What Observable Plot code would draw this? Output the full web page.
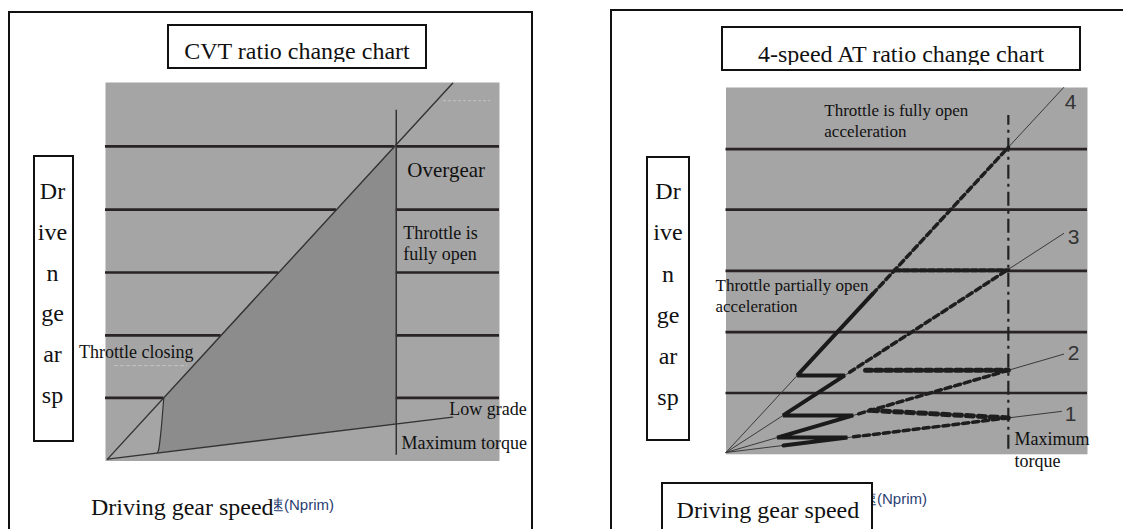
<!DOCTYPE html>
<html>
<head>
<meta charset="utf-8">
<script src="https://cdn.jsdelivr.net/npm/d3@7"></script>
<script src="https://cdn.jsdelivr.net/npm/@observablehq/plot@0.6"></script>
<style>
  body { margin: 0; background: #fff; }
  #page { position: relative; width: 1123px; height: 529px; overflow: hidden; background: #fff;
          font-family: "Liberation Serif", "Times New Roman", serif; color: #111; }
  .box { position: absolute; box-sizing: border-box; border: 2px solid #111; background: #fff; }
  .frame { position: absolute; box-sizing: border-box; border: 2px solid #111; }
  .txt { position: absolute; white-space: nowrap; }
  .svgwrap { position: absolute; top: 0; }
</style>
</head>
<body>
<div id="page"></div>
<script>
// ================= DATA =================
// --- CVT ratio change chart (x: driving gear speed, y: driven gear speed, 0-100 units) ---
const cvtGridY = [16.7, 33.2, 49.8, 66.4, 83.1];        // horizontal reference lines
const cvtFullThrottleX = [0.5, 88.1];                    // throttle fully open line
const cvtFullThrottleY = [0.5, 99.8];
const cvtLowGradeX = [0.5, 88.1];                        // low grade line
const cvtLowGradeY = [0.5, 11.6];
const cvtMaxTorqueX = 73.8;                              // maximum torque line
const cvtMaxTorqueY = [1.5, 92.7];
const cvtClosingX = [13.2, 13.45, 14.1, 14.6, 14.8];     // throttle closing curve
const cvtClosingY = [2.2, 2.8, 8.1, 14.2, 16.7];

// --- 4-speed AT ratio change chart ---
const atGears = ["1", "2", "3", "4"];
const atOriginX = 0, atOriginY = 0.5;
const atGearEndX = [92.8, 93.4, 93.4, 93.4];
const atGearEndY = [11.7, 27.3, 60.2, 100];
const atGridY = [16.7, 33.3, 50, 66.7, 83.2];
const atMaxTorqueX = 78.1;
const atMaxTorqueY = [1.4, 92.4];
// throttle partially open acceleration (zig-zag)
const atPartialX = [15.9, 33.6, 14.15, 35.2, 15.8, 32.85, 19.71, 40.5];
const atPartialY = [2.42, 4.56, 4.56, 10.6, 10.6, 21.5, 21.5, 43.64];
// throttle fully open: acceleration along each gear starts at
const atFullStartX = [35.3, 36.7, 34.2, 40.5];
// throttle fully open: upshifts 1->2, 2->3, 3->4
const atShiftFromX = [78.1, 78.1, 78.1];
const atShiftFromY = [9.93, 22.91, 50.2];
const atShiftToX = [40, 38.6, 46.65];
const atShiftToY = [11.98, 22.91, 50.2];

// ================= HELPERS =================
const SERIF = '"Liberation Serif","Times New Roman",serif';
const SANS = '"Liberation Sans",Arial,sans-serif';
const LINE = "#2a2325";
const GRAY = "#a5a5a5";
const DARKGRAY = "#8c8c8c";
const page = document.getElementById("page");

function interpY(xs, ys, x) { return ys[0] + (x - xs[0]) * (ys[1] - ys[0]) / (xs[1] - xs[0]); }
function interpX(xs, ys, y) { return xs[0] + (y - ys[0]) * (xs[1] - xs[0]) / (ys[1] - ys[0]); }

function div(cls, css, parent = page) {
  const d = document.createElement("div");
  d.className = cls;
  Object.assign(d.style, css);
  parent.appendChild(d);
  return d;
}
// text placed by its baseline; line-height = font-size
function htmlText(str, left, baseline, size, opts = {}) {
  const fam = opts.family || SERIF;
  const k = fam === SANS ? 0.8465 : 0.8375;
  const d = div("txt", {
    fontFamily: fam, fontSize: size + "px", lineHeight: size + "px",
    top: (baseline - k * size) + "px", color: opts.color || "#111",
    zIndex: opts.z || 3
  }, opts.parent || page);
  if (opts.center != null) {
    d.style.left = (opts.center - 150) + "px"; d.style.width = "300px"; d.style.textAlign = "center";
  } else d.style.left = left + "px";
  if (opts.bg) d.style.background = opts.bg;
  d.textContent = str;
  return d;
}
function note(str, x, y, size, anchor = "start", family = SERIF) {
  return Plot.text([str], {x, y, text: d => d, textAnchor: anchor, fontSize: size, fontFamily: family, fill: "#111"});
}

// ================= OUTER FRAMES =================
div("frame", {left: "8px", top: "11px", width: "525px", height: "600px", zIndex: 1});
div("frame", {left: "610px", top: "9px", width: "600px", height: "600px", zIndex: 1});

// ================= CVT PLOT =================
const cvtGridSegs = cvtGridY.flatMap(y => [
  {y, x1: 0, x2: interpX(cvtFullThrottleX, cvtFullThrottleY, y)},
  {y, x1: cvtMaxTorqueX, x2: 100}
]);
const cvtPoly = [
  {x: cvtClosingX[cvtClosingX.length - 1], y: cvtClosingY[cvtClosingY.length - 1]},
  {x: cvtMaxTorqueX, y: interpY(cvtFullThrottleX, cvtFullThrottleY, cvtMaxTorqueX)},
  {x: cvtMaxTorqueX, y: interpY(cvtLowGradeX, cvtLowGradeY, cvtMaxTorqueX)},
  ...cvtClosingX.map((x, i) => ({x, y: cvtClosingY[i]}))
];
const cvtFull = cvtFullThrottleX.map((x, i) => ({x, y: cvtFullThrottleY[i]}));
const cvtLow = cvtLowGradeX.map((x, i) => ({x, y: cvtLowGradeY[i]}));
const cvtClosing = cvtClosingX.map((x, i) => ({x, y: cvtClosingY[i]}));

const cvtPlot = Plot.plot({
  width: 560, height: 529,
  marginLeft: 105, marginRight: 61, marginTop: 82, marginBottom: 68.5,
  x: {domain: [0, 100], axis: null},
  y: {domain: [0, 100], axis: null},
  style: {background: "transparent", overflow: "visible"},
  marks: [
    Plot.frame({fill: GRAY, stroke: "none"}),
    Plot.line(cvtPoly, {x: "x", y: "y", fill: DARKGRAY, stroke: "none"}),
    Plot.ruleY(cvtGridSegs, {y: "y", x1: "x1", x2: "x2", stroke: LINE, strokeWidth: 2.7}),
    Plot.line([{x: 2.3, y: 25.2}, {x: 20.6, y: 25.2}], {x: "x", y: "y", stroke: "#c4c4c4", strokeWidth: 1, strokeDasharray: "3 3"}),
    Plot.line([{x: 85.8, y: 95.2}, {x: 97.5, y: 95.2}], {x: "x", y: "y", stroke: "#c4c4c4", strokeWidth: 1, strokeDasharray: "2 3"}),
    Plot.line(cvtFull, {x: "x", y: "y", stroke: "#333", strokeWidth: 1.4}),
    Plot.line(cvtLow, {x: "x", y: "y", stroke: "#333", strokeWidth: 1.4}),
    Plot.line(cvtClosing, {x: "x", y: "y", stroke: "#333", strokeWidth: 1.2, curve: "catmull-rom"}),
    Plot.ruleX([cvtMaxTorqueX], {x: d => d, y1: cvtMaxTorqueY[0], y2: cvtMaxTorqueY[1], stroke: "#333", strokeWidth: 1.5}),
    note("Overgear", 76.6, 76.7, 21),
    note("Throttle is", 75.6, 60.1, 18),
    note("fully open", 75.6, 54.5, 18),
    note("Throttle closing", -6.7, 28.7, 18),
    note("Low grade", 106.9, 13.6, 18, "end"),
    note("Maximum torque", 75.1, 4.65, 18)
  ]
});
const w1 = div("svgwrap", {left: "0px", zIndex: 2});
w1.appendChild(cvtPlot);

// ================= AT PLOT =================
const atGearLines = atGears.flatMap((g, i) => [
  {g, x: atOriginX, y: atOriginY},
  {g, x: atGearEndX[i], y: atGearEndY[i]}
]);
const gearY = (i, x) => interpY([atOriginX, atGearEndX[i]], [atOriginY, atGearEndY[i]], x);
const atFullAlong = atGears.flatMap((g, i) => [
  {g, x: atFullStartX[i], y: gearY(i, atFullStartX[i])},
  {g, x: atMaxTorqueX, y: gearY(i, atMaxTorqueX)}
]);
const shiftSeg = j => [{x: atShiftToX[j], y: atShiftToY[j]}, {x: atShiftFromX[j], y: atShiftFromY[j]}];
const atPartial = atPartialX.map((x, i) => ({x, y: atPartialY[i]}));
const labelOffsets = [[9, 3], [10, -1], [10, 4], [7, 15]];

const atPlot = Plot.plot({
  width: 560, height: 529,
  marginLeft: 162.5, marginRight: 36, marginTop: 87, marginBottom: 75.2,
  x: {domain: [0, 100], axis: null},
  y: {domain: [0, 100], axis: null},
  style: {background: "transparent", overflow: "visible"},
  marks: [
    Plot.frame({fill: GRAY, stroke: "none"}),
    Plot.ruleY(atGridY, {y: d => d, stroke: LINE, strokeWidth: 2.6}),
    Plot.line(atGearLines, {x: "x", y: "y", z: "g", stroke: "#3a3a3a", strokeWidth: 1}),
    Plot.ruleX([atMaxTorqueX], {x: d => d, y1: atMaxTorqueY[0], y2: atMaxTorqueY[1], stroke: "#222", strokeWidth: 2.2, strokeDasharray: "14 5 3 5"}),
    Plot.line(atFullAlong, {x: "x", y: "y", z: "g", stroke: "#1e1e1e", strokeWidth: 3.5, strokeDasharray: "6 4"}),
    Plot.line(shiftSeg(0), {x: "x", y: "y", stroke: "#1e1e1e", strokeWidth: 5, strokeDasharray: "7 5"}),
    Plot.line(shiftSeg(1), {x: "x", y: "y", stroke: "#1e1e1e", strokeWidth: 5, strokeDasharray: "6 4"}),
    Plot.line(shiftSeg(2), {x: "x", y: "y", stroke: "#1e1e1e", strokeWidth: 4, strokeDasharray: "6 2.5"}),
    Plot.line(atPartial, {x: "x", y: "y", stroke: "#1a1a1a", strokeWidth: 4, strokeLinejoin: "miter"}),
    ...atGears.map((g, i) => Plot.text([g], {
      x: atGearEndX[i], y: atGearEndY[i], text: d => d, dx: labelOffsets[i][0], dy: labelOffsets[i][1],
      fontSize: 21, fontFamily: SANS, fill: "#333"
    })),
    note("Throttle is fully open", 27.2, 93.6, 17),
    note("acceleration", 27.2, 88.0, 17),
    note("Throttle partially open", -2.9, 46.0, 17),
    note("acceleration", -2.9, 40.2, 17),
    note("Maximum", 79.8, 4.0, 18),
    note("torque", 79.8, -2.0, 18)
  ]
});
const w2 = div("svgwrap", {left: "563px", zIndex: 2});
w2.appendChild(atPlot);

// ================= TITLE BOXES (text clipped at the bottom, as in the original) =================
function titleBox(str, left, top, width, height, baseline, clipY) {
  const b = div("box", {left: left + "px", top: top + "px", width: width + "px", height: height + "px", zIndex: 3});
  const inner = top + 2;
  const clip = div("", {position: "absolute", left: "0px", top: "0px", width: "100%", height: (clipY - inner) + "px", overflow: "hidden"}, b);
  const t = div("", {position: "absolute", left: "0px", width: "100%", textAlign: "center", whiteSpace: "nowrap",
    fontFamily: SERIF, fontSize: "24px", lineHeight: "24px", top: (baseline - 0.8375 * 24 - inner) + "px"}, clip);
  t.textContent = str;
}
titleBox("CVT ratio change chart", 167, 24, 260, 44.5, 59.5, 62);
titleBox("4-speed AT ratio change chart", 721, 26, 360, 45, 62, 65);

// ================= Y LABEL BOXES =================
const yLabelParts = ["Dr", "ive", "n", "ge", "ar", "sp"];
div("box", {left: "33px", top: "155px", width: "41px", height: "287px", zIndex: 3});
yLabelParts.forEach((s, i) => htmlText(s, 0, 199 + 40.8 * i, 24, {center: 52.5, z: 4}));
div("box", {left: "646px", top: "156px", width: "44px", height: "285px", zIndex: 3});
yLabelParts.forEach((s, i) => htmlText(s, 0, 199 + 41.3 * i, 24, {center: 668, z: 4}));

// ================= X LABELS =================
htmlText("速(Nprim)", 269, 510, 15, {family: SANS, color: "#2b3f73", z: 3});
htmlText("Driving gear speed", 91, 515, 24, {z: 4, bg: "#fff"});
htmlText("速(Nprim)", 862, 504, 15, {family: SANS, color: "#2b3f73", z: 3});
div("box", {left: "661px", top: "482px", width: "212px", height: "80px", zIndex: 4});
htmlText("Driving gear speed", 676.6, 518, 24, {z: 5});
</script>
</body>
</html>
